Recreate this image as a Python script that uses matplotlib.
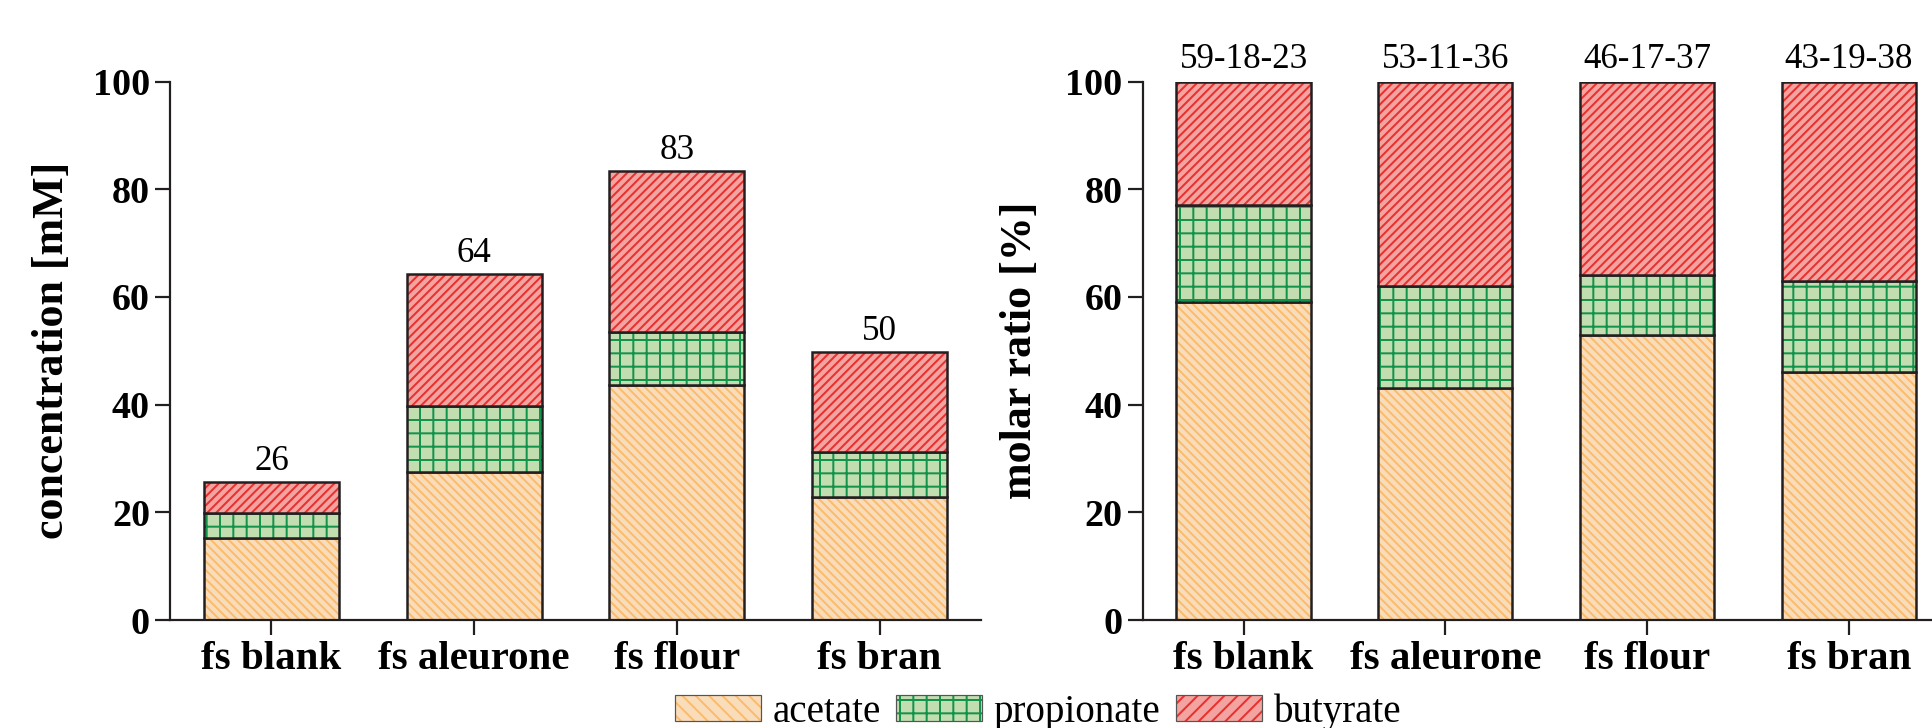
""" SCFA concentration and molar ratio per fermentation sample """
import matplotlib.pyplot as plt
from matplotlib.patches import Patch
import numpy as np

samples = ['fs blank', 'fs aleurone', 'fs flour', 'fs bran']

# concentration [mM]
acetate_mM = [15.2, 27.5, 43.7, 22.9]
propionate_mM = [4.6, 12.2, 9.7, 8.3]
butyrate_mM = [5.9, 24.6, 30.0, 18.5]
total_labels = ['26', '64', '83', '50']

# molar ratio [%]
acetate_pct = [59, 43, 53, 46]
propionate_pct = [18, 19, 11, 17]
butyrate_pct = [23, 38, 36, 37]
ratio_labels = ['59-18-23', '53-11-36', '46-17-37', '43-19-38']

acid_names = ['acetate', 'propionate', 'butyrate']

# face colour, hatch colour, hatch
STYLES = [('#f9ddbb', '#fbbb6c', '\\\\\\'),
          ('#c2ddb0', '#13934b', '+'),
          ('#f4a4a0', '#e8302f', '///')]
EDGE = '#231f20'
WIDTH = 0.665
DPI = 80
PT = 72 / DPI  # sizes below are given in pixels

plt.rcParams['font.family'] = ['Liberation Serif', 'DejaVu Serif']
plt.rcParams['hatch.linewidth'] = 2.0 * PT
plt.rcParams['axes.linewidth'] = 2.2 * PT


def stacked_bars(ax, layers):
    x = np.arange(len(samples))
    bottom = np.zeros(len(samples))
    for vals, (face, hatch_col, hatch) in zip(layers, STYLES):
        vals = np.asarray(vals, dtype=float)
        ax.bar(x, vals, WIDTH, bottom=bottom, color=face, edgecolor=hatch_col,
               hatch=hatch, linewidth=0)
        ax.bar(x, vals, WIDTH, bottom=bottom, fill=False, edgecolor=EDGE,
               linewidth=2.5 * PT)
        bottom += vals
    return x, bottom


def style_axis(ax, ylabel, label_x):
    ax.set_xlim(-0.5, 3.5)
    ax.set_ylim(0, 100)
    ax.set_yticks(range(0, 101, 20))
    ax.set_xticks(range(len(samples)))
    ax.set_xticklabels(samples, fontsize=41 * PT, fontweight='bold')
    for lab in ax.get_yticklabels():
        lab.set_fontsize(38 * PT)
        lab.set_fontweight('bold')
    ax.tick_params(axis='both', direction='out', length=15 * PT, width=2.2 * PT, color=EDGE)
    ax.tick_params(axis='x', pad=6 * PT)
    ax.tick_params(axis='y', pad=5 * PT)
    for side in ['top', 'right']:
        ax.spines[side].set_visible(False)
    for side in ['left', 'bottom']:
        ax.spines[side].set_color(EDGE)
    ax.set_ylabel(ylabel, fontsize=44 * PT, fontweight='bold', va='center')
    ax.yaxis.set_label_coords(label_x, 0.5)


fig = plt.figure(figsize=(1932 / DPI, 728 / DPI), dpi=DPI)
ax1 = fig.add_axes([170 / 1932, 108 / 728, 811 / 1932, 538.5 / 728])
ax2 = fig.add_axes([1142.7 / 1932, 108 / 728, 807 / 1932, 538.5 / 728])

x, tops = stacked_bars(ax1, [acetate_mM, propionate_mM, butyrate_mM])
for xi, top, lab in zip(x, tops, total_labels):
    ax1.annotate(lab, (xi, top), xytext=(0, 4 * PT), textcoords='offset points',
                 ha='center', va='bottom', fontsize=35 * PT)
style_axis(ax1, 'concentration [mM]', -0.1455)

x, tops = stacked_bars(ax2, [acetate_pct, propionate_pct, butyrate_pct])
for xi, top, lab in zip(x, tops, ratio_labels):
    ax2.annotate(lab, (xi, top), xytext=(0, 6 * PT), textcoords='offset points',
                 ha='center', va='bottom', fontsize=35 * PT, annotation_clip=False)
style_axis(ax2, 'molar ratio [%]', -0.152)

handles = [(Patch(facecolor=face, edgecolor=hatch_col, hatch=hatch.replace('///', '//').replace('\\\\\\', '\\\\'),
                  linewidth=0),
            Patch(fill=False, edgecolor='#555555', linewidth=1.2 * PT))
           for face, hatch_col, hatch in STYLES]
fig.legend(handles, acid_names, loc='center', bbox_to_anchor=(1038 / 1932, 1 - 712 / 728),
           ncol=3, frameon=False, fontsize=39 * PT, handlelength=2.2, handleheight=0.65,
           handletextpad=0.3, columnspacing=0.4, borderpad=0.0)

fig.savefig('out.png', dpi=DPI)
